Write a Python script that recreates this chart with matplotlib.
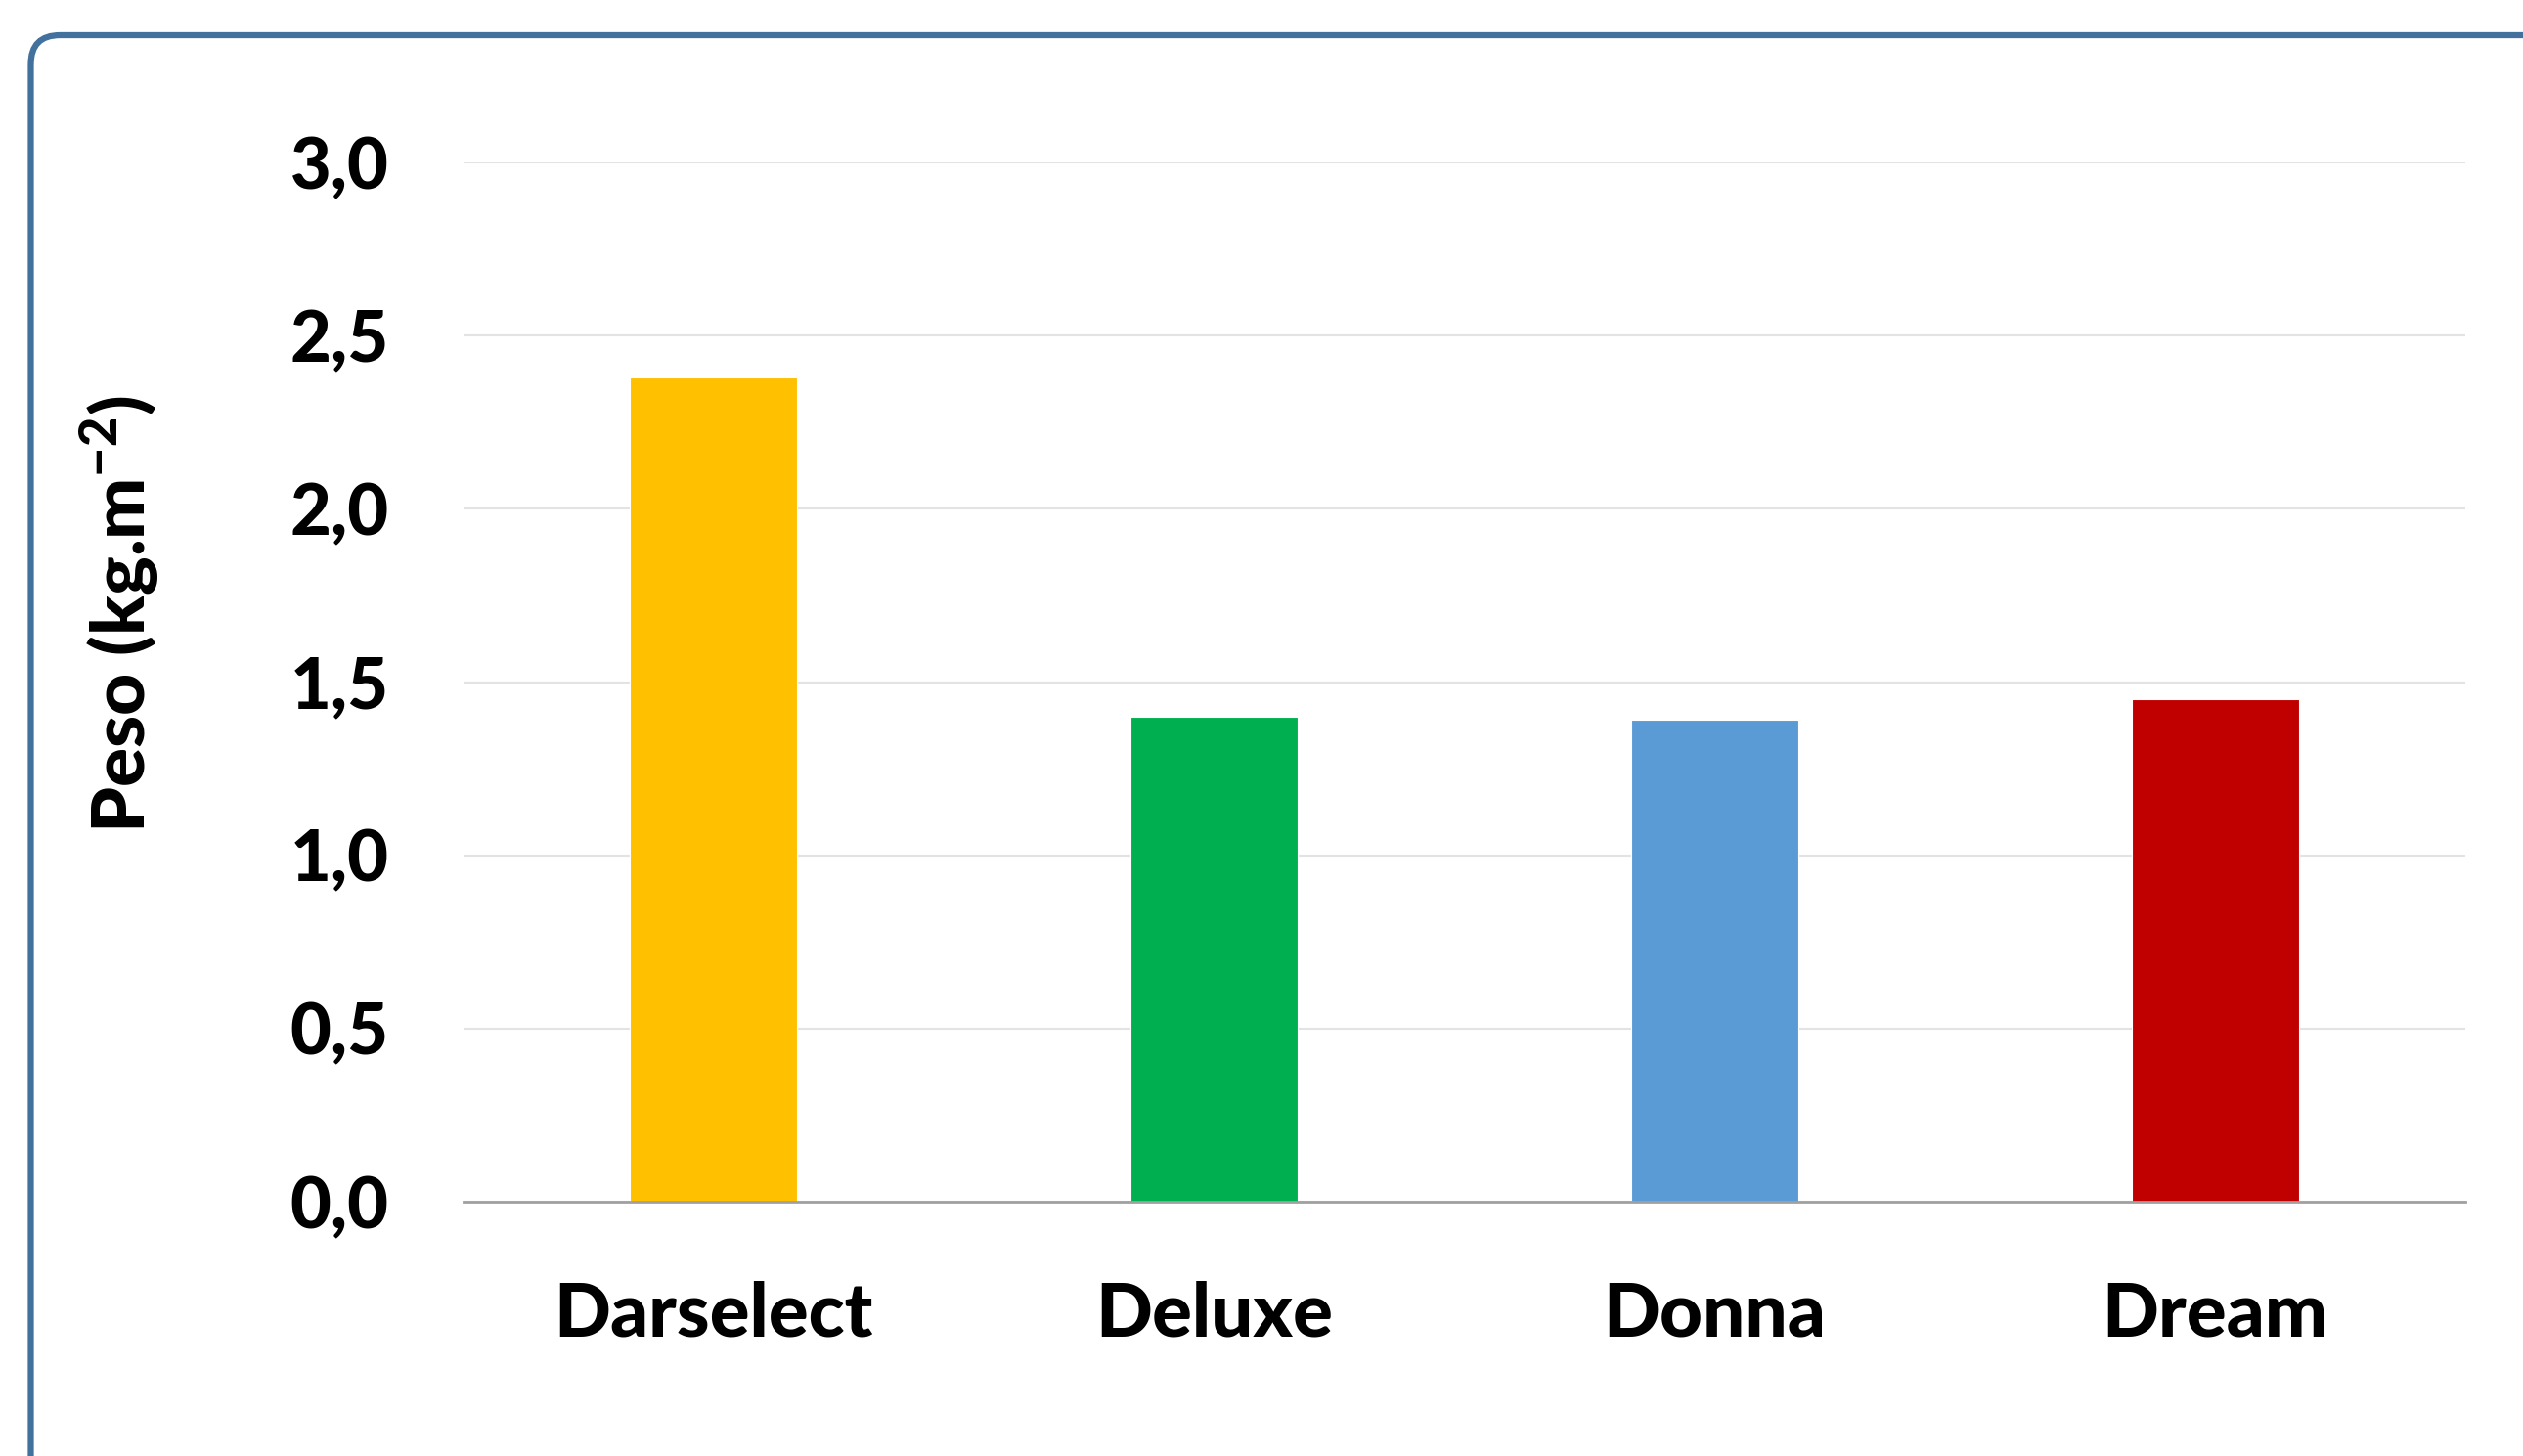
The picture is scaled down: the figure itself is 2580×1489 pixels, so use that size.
import matplotlib
matplotlib.use("Agg")
import matplotlib.pyplot as plt
from matplotlib.patches import FancyBboxPatch
from matplotlib.transforms import IdentityTransform

categories = ["Darselect", "Deluxe", "Donna", "Dream"]
values = [2.38, 1.40, 1.39, 1.45]
colors = ["#FFC000", "#00B050", "#5B9BD5", "#C00000"]
yticks = [0.0, 0.5, 1.0, 1.5, 2.0, 2.5, 3.0]
ytick_labels = ["0,0", "0,5", "1,0", "1,5", "2,0", "2,5", "3,0"]
ylabel = r"Peso (kg.m$^{\mathbf{-2}}$)"

plt.rcParams['font.family'] = ['Lato', 'DejaVu Sans']
plt.rcParams['mathtext.fontset'] = 'custom'
plt.rcParams['mathtext.rm'] = 'Lato'
plt.rcParams['mathtext.bf'] = 'Lato:black'

W, H, DPI = 2580, 1489, 100
fig = plt.figure(figsize=(W / DPI, H / DPI), dpi=DPI)
fig.patch.set_facecolor("white")

left, right = 474, 2521
top, bottom = 166, 1229
ax = fig.add_axes([left / W, 1 - bottom / H, (right - left) / W, (bottom - top) / H])

x = list(range(len(categories)))
ax.bar(x, values, width=0.334, color=colors, edgecolor="white", linewidth=0.8, zorder=3)

ax.set_xlim(-0.5, len(categories) - 0.5)
ax.set_ylim(0, 3.0)
ax.set_yticks(yticks)
ax.set_yticklabels(ytick_labels)
ax.set_xticks(x)
ax.set_xticklabels(categories)

ax.tick_params(axis='y', length=0, pad=55, labelsize=52)
ax.tick_params(axis='x', length=0, pad=58, labelsize=55)
for lab in ax.get_yticklabels() + ax.get_xticklabels():
    lab.set_fontweight("black")

ax.grid(axis='y', color="#E3E3E3", linewidth=1.5, zorder=0)
ax.set_axisbelow(True)
for s in ["top", "right", "left"]:
    ax.spines[s].set_visible(False)
ax.spines["bottom"].set_color("#A0A0A0")
ax.spines["bottom"].set_linewidth(2.0)
ax.spines["bottom"].set_zorder(4)

fig.text(123 / W, 1 - 628 / H, ylabel, rotation=90, fontsize=54, fontweight="black",
         ha="center", va="center")

frame = FancyBboxPatch((31.5, -200), 3200, (H - 36) + 200,
                       boxstyle="round,pad=0,rounding_size=30",
                       transform=IdentityTransform(), facecolor="none",
                       edgecolor="#41719C", linewidth=4.5, zorder=10)
fig.patches.append(frame)

fig.savefig("out.png", dpi=DPI)
